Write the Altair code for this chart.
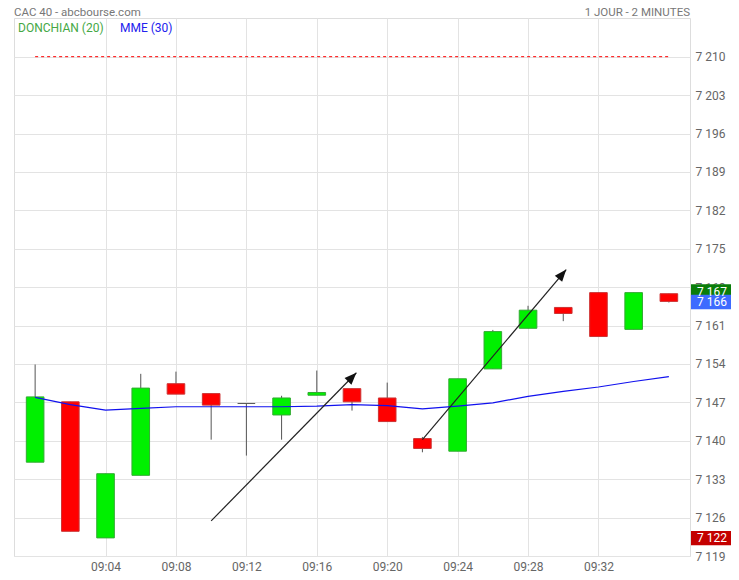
import math
import altair as alt
import pandas as pd

# ---- data ----
times = ["09:00", "09:02", "09:04", "09:06", "09:08", "09:10", "09:12", "09:14", "09:16", "09:18",
         "09:20", "09:22", "09:24", "09:26", "09:28", "09:30", "09:32", "09:34", "09:36"]
opens = [7136.1, 7147.1, 7122.3, 7133.7, 7150.4, 7148.6, 7146.8, 7144.7, 7148.3, 7149.5,
         7147.8, 7140.4, 7138.1, 7153.1, 7160.5, 7164.3, 7167.0, 7160.3, 7166.8]
closes = [7148.0, 7123.5, 7134.0, 7149.6, 7148.5, 7146.5, 7146.8, 7147.8, 7148.8, 7147.1,
          7143.5, 7138.6, 7151.3, 7159.9, 7163.8, 7163.2, 7159.0, 7167.0, 7165.4]
highs = [7153.9, 7147.1, 7134.0, 7152.2, 7152.6, 7148.6, 7146.8, 7148.2, 7152.8, 7149.5,
         7150.6, 7140.7, 7151.3, 7160.2, 7164.6, 7164.3, 7167.0, 7167.0, 7166.8]
lows = [7136.1, 7123.5, 7122.3, 7133.7, 7148.5, 7140.2, 7137.3, 7140.2, 7148.3, 7145.5,
        7143.5, 7137.9, 7138.1, 7153.1, 7160.5, 7161.8, 7159.0, 7160.3, 7165.2]
mme30 = [7147.9, 7146.6, 7145.6, 7145.9, 7146.2, 7146.2, 7146.2, 7146.2, 7146.3, 7146.6,
         7146.4, 7145.8, 7146.3, 7146.9, 7148.1, 7149.0, 7149.8, 7150.8, 7151.7]
donchian_high = 7210.0

arrow_start_time = ["09:10", "09:22"]
arrow_start_val = [7125.4, 7140.2]
arrow_end_min = [18.25, 30.17]
arrow_end_val = [7152.4, 7171.2]

price_tag_vals = [7167.2, 7165.3, 7122.25]
price_tag_text = ["7 167", "7 166", "7 122"]
price_tag_colors = ["#0a7d0a", "#3d6bff", "#c40000"]

y_ticks = list(range(7119, 7211, 7))
x_ticks = [4, 8, 12, 16, 20, 24, 28, 32]

# ---- layout constants ----
W, H = 676, 538
XDOM = [-1.2, 37.2]
YDOM = [7119, 7217.05]
FONT = "Roboto"
GRID = "#e3e3e3"


def to_min(t):
    h, m = t.split(":")
    return (int(h) - 9) * 60 + int(m)


df = pd.DataFrame({"t": times, "open": opens, "close": closes, "high": highs,
                   "low": lows, "ema": mme30})
df["m"] = df["t"].map(to_min)
df["m0"] = df["m"] - 0.5
df["m1"] = df["m"] + 0.5
df["dir"] = ["up" if c > o else ("down" if c < o else "flat") for o, c in zip(opens, closes)]

xs = alt.Scale(domain=XDOM, nice=False, zero=False)
ys = alt.Scale(domain=YDOM, nice=False, zero=False)

x_axis = alt.Axis(values=x_ticks, labelExpr="'09:' + (datum.value < 10 ? '0' : '') + datum.value",
                  grid=True, gridColor=GRID, ticks=False, domain=False, labelColor="#666",
                  labelFont=FONT, labelFontSize=12, labelPadding=5, title=None)
y_axis = alt.Axis(orient="right", values=y_ticks,
                  labelExpr="substring(format(datum.value,'d'),0,1) + ' ' + substring(format(datum.value,'d'),1)",
                  grid=True, gridColor=GRID, ticks=False, domain=False, labelColor="#666",
                  labelFont=FONT, labelFontSize=12, labelPadding=5, title=None,
                  labelBaseline="middle")

base = alt.Chart(df)

wicks = base.mark_rule(color="#555", strokeWidth=1).encode(
    x=alt.X("m:Q", scale=xs, axis=x_axis),
    y=alt.Y("low:Q", scale=ys, axis=y_axis),
    y2="high:Q",
)

bodies = base.transform_filter("datum.dir != 'flat'").mark_rect(strokeWidth=1).encode(
    x=alt.X("m0:Q", scale=xs), x2="m1:Q",
    y=alt.Y("open:Q", scale=ys), y2="close:Q",
    fill=alt.Fill("dir:N", scale=alt.Scale(domain=["up", "down"], range=["#00f000", "#ff0000"]), legend=None),
    stroke=alt.Stroke("dir:N", scale=alt.Scale(domain=["up", "down"], range=["#33aa33", "#cc3333"]), legend=None),
)

doji = base.transform_filter("datum.dir == 'flat'").mark_rule(color="#555", strokeWidth=1).encode(
    x=alt.X("m0:Q", scale=xs), x2="m1:Q", y=alt.Y("open:Q", scale=ys),
)

ema_line = base.mark_line(color="#1111ee", strokeWidth=1.2).encode(
    x=alt.X("m:Q", scale=xs), y=alt.Y("ema:Q", scale=ys),
)

don_df = pd.DataFrame({"xs": [df["m"].min()], "xe": [df["m"].max()], "v": [donchian_high]})
donchian = alt.Chart(don_df).mark_rule(color="#ff0000", strokeWidth=1, strokeDash=[3, 3]).encode(
    x=alt.X("xs:Q", scale=xs), x2="xe:Q", y=alt.Y("v:Q", scale=ys),
)

pxm = W / (XDOM[1] - XDOM[0])
pxv = H / (YDOM[1] - YDOM[0])
ar = pd.DataFrame({"x1": [to_min(t) for t in arrow_start_time], "y1": arrow_start_val,
                   "x2": arrow_end_min, "y2": arrow_end_val})
ar["ang"] = [math.degrees(math.atan2((b - a) * pxm, (d - c) * pxv))
             for a, b, c, d in zip(ar["x1"], ar["x2"], ar["y1"], ar["y2"])]

arrow_lines = alt.Chart(ar).mark_rule(color="#222", strokeWidth=1.2).encode(
    x=alt.X("x1:Q", scale=xs), x2="x2:Q", y=alt.Y("y1:Q", scale=ys), y2="y2:Q",
)
arrow_heads = alt.Chart(ar).mark_point(shape="M0,0 L0.4,1 L-0.4,1 Z", filled=True, opacity=1,
                                       size=576, color="#111", strokeWidth=0).encode(
    x=alt.X("x2:Q", scale=xs), y=alt.Y("y2:Q", scale=ys), angle=alt.Angle("ang:Q", scale=None),
)

leg_df = pd.DataFrame({"label": ["DONCHIAN (20)", "MME (30)"], "c": ["#45a845", "#2222ee"],
                       "px": [4, 106]})
legend = alt.Chart(leg_df).mark_text(align="left", baseline="middle", font=FONT, fontSize=12).encode(
    x=alt.X("px:Q", scale=None), y=alt.value(10), text="label:N", color=alt.Color("c:N", scale=None),
)

titles_df = pd.DataFrame({"label": ["CAC 40 - abcbourse.com", "1 JOUR - 2 MINUTES"]})
title_l = alt.Chart(titles_df.iloc[[0]]).mark_text(align="left", baseline="alphabetic", font=FONT,
                                                  fontSize=11.5, color="#777").encode(
    x=alt.value(0), y=alt.value(-2), text="label:N")
title_r = alt.Chart(titles_df.iloc[[1]]).mark_text(align="right", baseline="alphabetic", font=FONT,
                                                  fontSize=11.5, color="#777").encode(
    x=alt.value(W), y=alt.value(-2), text="label:N")

tags = pd.DataFrame({"v": price_tag_vals, "txt": price_tag_text, "c": price_tag_colors})
tag_boxes = alt.Chart(tags).mark_point(shape="M-1,-0.3 L1,-0.3 L1,0.3 L-1,0.3 Z", filled=True,
                                       opacity=1, size=2304, strokeWidth=0).encode(
    x=alt.value(W + 25), y=alt.Y("v:Q", scale=ys), color=alt.Color("c:N", scale=None),
)
tag_text = alt.Chart(tags).mark_text(align="left", baseline="middle", font=FONT, fontSize=12,
                                     color="white").encode(
    x=alt.value(W + 7), y=alt.Y("v:Q", scale=ys), text="txt:N",
)

chart = alt.layer(
    wicks, bodies, doji, ema_line, donchian, arrow_lines, arrow_heads,
    legend, title_l, title_r, tag_boxes, tag_text,
).properties(
    width=W, height=H,
    autosize=alt.AutoSizeParams(type="none"),
    padding={"left": 6, "top": 10, "right": 41, "bottom": 16},
).configure_view(stroke="#dddddd", strokeWidth=1).configure(background="white")

chart.save("out.html", embed_options={"renderer": "svg", "actions": False})
